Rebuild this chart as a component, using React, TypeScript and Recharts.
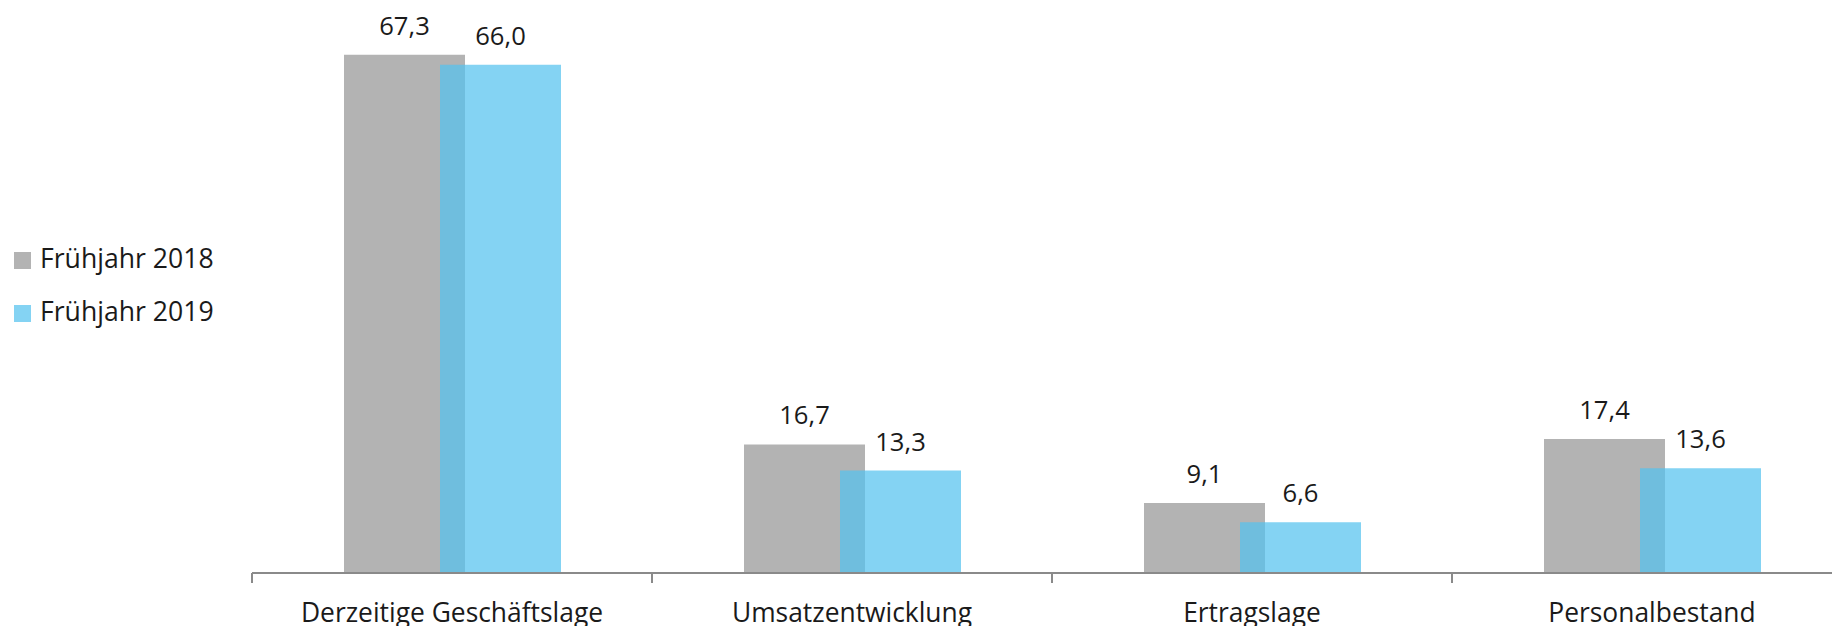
import React from "react";
import { BarChart, Bar, XAxis, YAxis, LabelList, Legend } from "recharts";

const categories = ["Derzeitige Geschäftslage", "Umsatzentwicklung", "Ertragslage", "Personalbestand"];
const fruehjahr2018 = [67.3, 16.7, 9.1, 17.4];
const fruehjahr2019 = [66.0, 13.3, 6.6, 13.6];
const seriesNames = ["Frühjahr 2018", "Frühjahr 2019"];

const data = categories.map((c, i) => ({ name: c, a: fruehjahr2018[i], b: fruehjahr2019[i] }));

const FONT = "'Open Sans', sans-serif";
const GRAY = "#b3b3b3";
const BLUE = "rgb(84,194,239)";
const BLUE_OPACITY = 0.72;
const AXIS = "#8a8a8a";
const TEXT = "#1a1a1a";

const CHART_W = 1852;
const CHART_H = 626;
const MARGIN = { top: 34, right: 0, left: 252, bottom: 0 };
const PLOT_W = CHART_W - MARGIN.left - MARGIN.right;
const HALF_BAND = PLOT_W / categories.length / 2;

const fmt = (v: any) => Number(v).toFixed(1).replace(".", ",");

function CatTick(props: any) {
  const { x, y, payload } = props;
  return (
    <g>
      <line x1={x - HALF_BAND} x2={x - HALF_BAND} y1={y - 10} y2={y} stroke={AXIS} strokeWidth={2} />
      <text x={x} y={y} dy={39} textAnchor="middle" fill={TEXT} fontSize={26.4} fontFamily={FONT}>
        {payload.value}
      </text>
    </g>
  );
}

function LegendContent() {
  const items = [
    { label: seriesNames[0], color: GRAY, opacity: 1 },
    { label: seriesNames[1], color: BLUE, opacity: BLUE_OPACITY },
  ];
  return (
    <div style={{ fontFamily: FONT }}>
      {items.map((it, i) => (
        <div key={i} style={{ display: "flex", alignItems: "center", height: 24, marginBottom: 29 }}>
          <div
            style={{
              width: 17,
              height: 17,
              background: it.color,
              opacity: it.opacity,
              marginRight: 9,
              position: "relative",
              top: 2,
              flex: "none",
            }}
          />
          <span style={{ fontSize: 26.6, lineHeight: "24px", color: TEXT, whiteSpace: "nowrap" }}>{it.label}</span>
        </div>
      ))}
    </div>
  );
}

export default function App() {
  return (
    <div style={{ position: "absolute", left: 0, top: 0, width: 1832, height: 626, overflow: "hidden", background: "#fff" }}>
      <BarChart width={CHART_W} height={CHART_H} data={data} margin={MARGIN} barSize={121} barGap={-25} style={{ fontFamily: FONT }}>
        <XAxis
          dataKey="name"
          height={53}
          tickSize={10}
          tickMargin={0}
          tickLine={false}
          axisLine={{ stroke: AXIS, strokeWidth: 2 }}
          tick={<CatTick />}
          interval={0}
        />
        <YAxis hide domain={[0, 70]} />
        <Legend
          layout="vertical"
          align="center"
          verticalAlign="middle"
          wrapperStyle={{ left: 14, top: 246, width: 260 }}
          content={<LegendContent />}
        />
        <Bar dataKey="a" name={seriesNames[0]} fill={GRAY} isAnimationActive={false}>
          <LabelList dataKey="a" position="top" offset={20} formatter={fmt} fill={TEXT} fontSize={25.6} fontFamily={FONT} />
        </Bar>
        <Bar dataKey="b" name={seriesNames[1]} fill={BLUE} fillOpacity={BLUE_OPACITY} isAnimationActive={false}>
          <LabelList dataKey="b" position="top" offset={20} formatter={fmt} fill={TEXT} fontSize={25.6} fontFamily={FONT} />
        </Bar>
      </BarChart>
    </div>
  );
}
